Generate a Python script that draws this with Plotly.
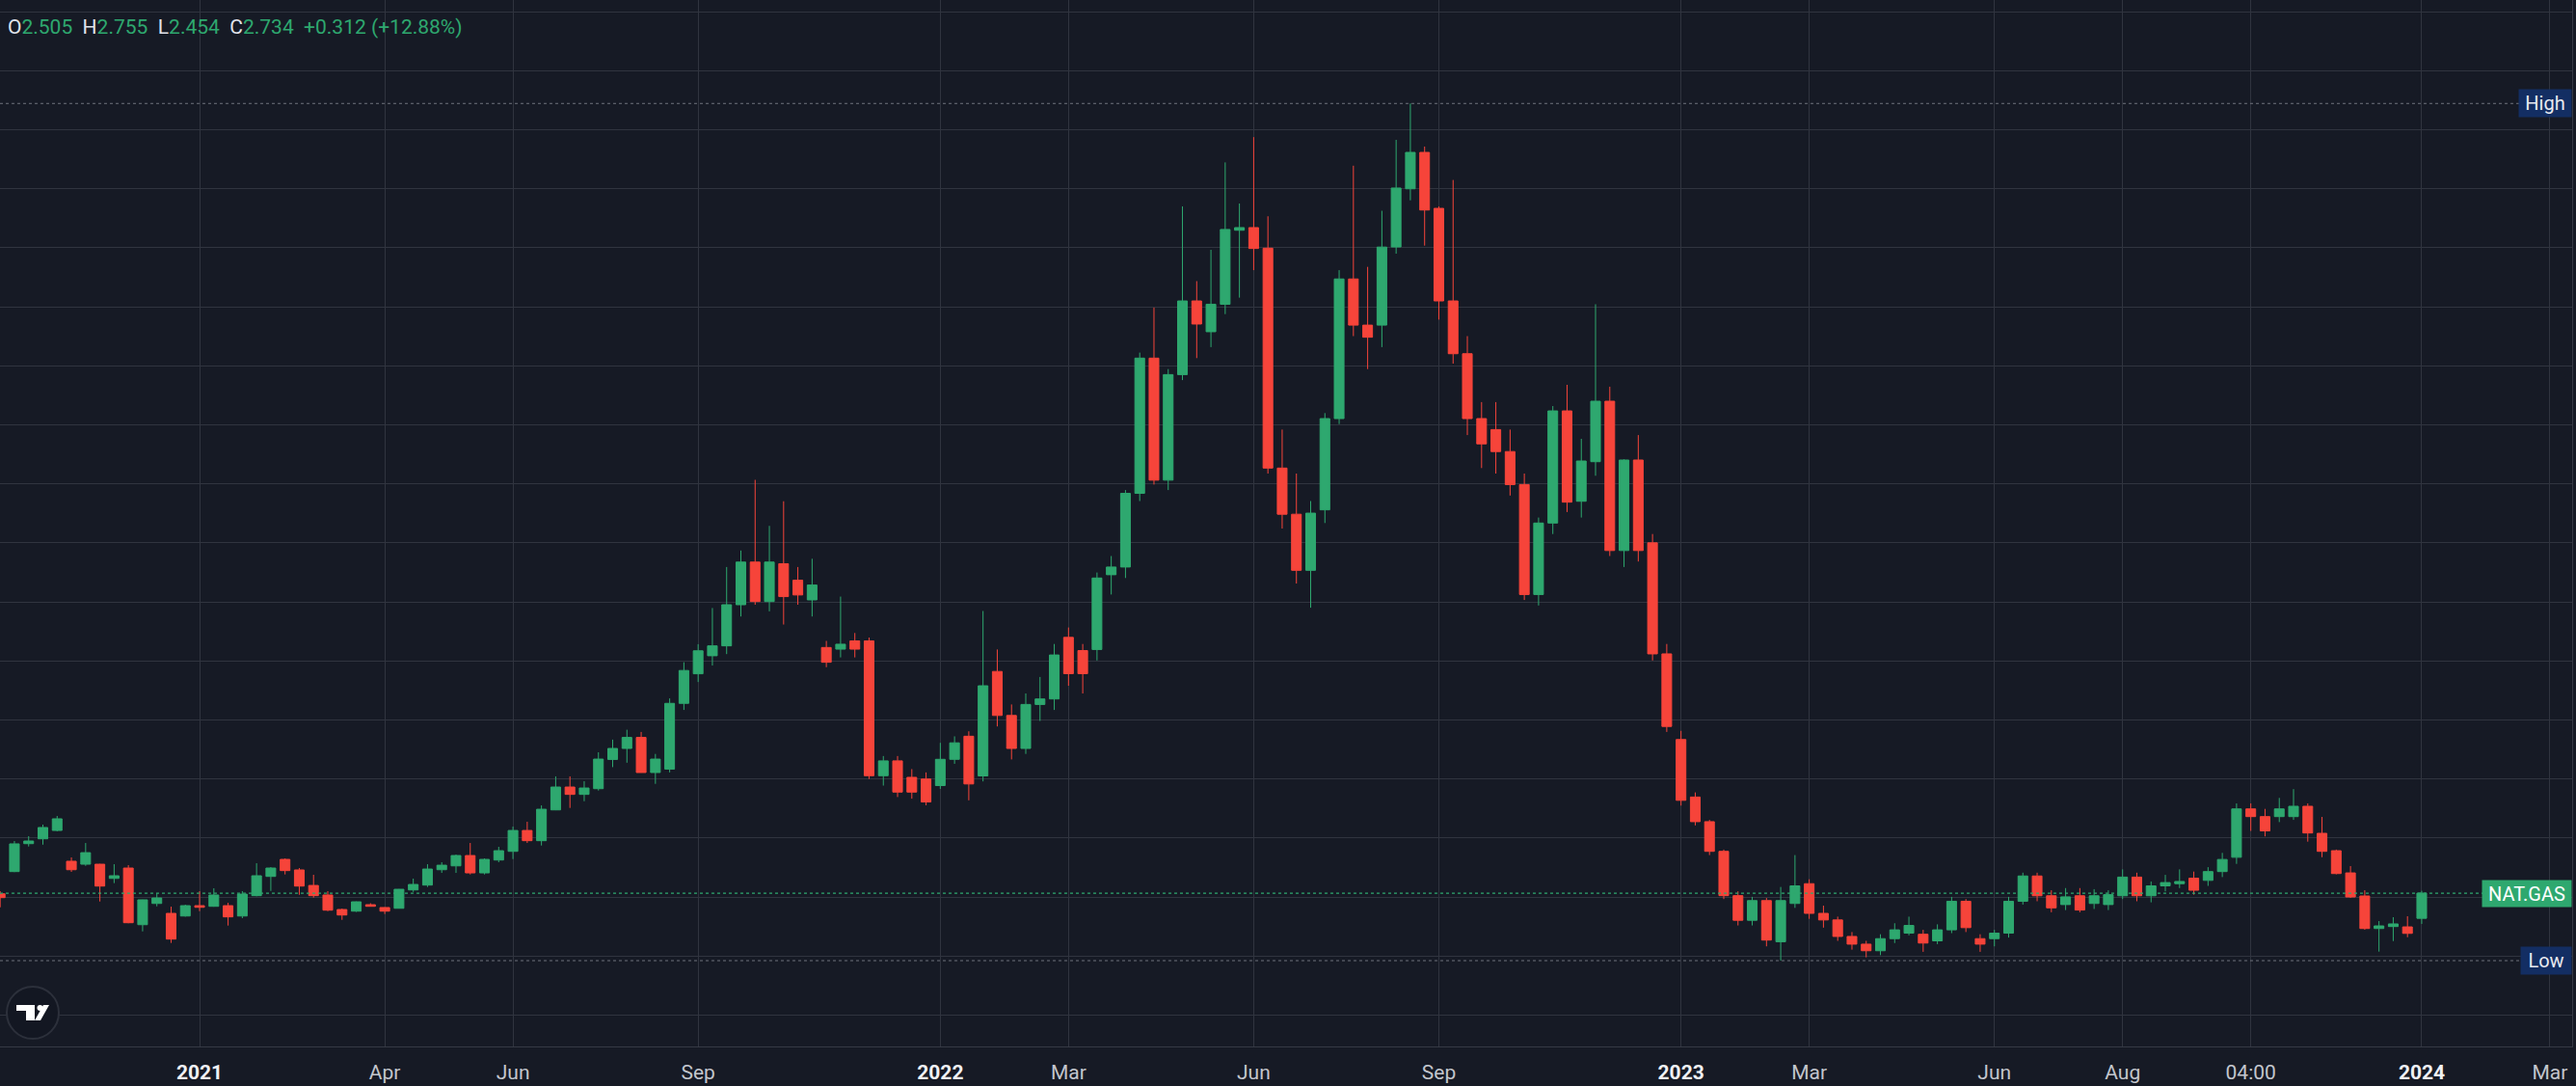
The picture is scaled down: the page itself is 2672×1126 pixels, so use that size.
import plotly.graph_objects as go
import pandas as pd

# ---------------- data (weekly candles, NAT.GAS) ----------------
start_week = "2020-09-28"
opens = [2.728, 2.930, 3.184, 3.228, 3.304, 3.024, 2.997, 2.997, 2.868, 2.962,
         2.447, 2.640, 2.550, 2.526, 2.620, 2.614, 2.620, 2.526, 2.711, 2.886,
         3.041, 2.945, 2.804, 2.717, 2.585, 2.570, 2.629, 2.603, 2.596, 2.763,
         2.807, 2.947, 2.982, 3.076, 2.918, 3.035, 3.114, 3.304, 3.211, 3.491,
         3.699, 3.632, 3.684, 3.950, 4.050, 4.150, 3.831, 3.862, 4.460, 4.729,
         4.893, 4.983, 5.357, 5.745, 5.386, 5.730, 5.580, 5.401, 4.968, 4.953,
         5.028, 5.028, 3.802, 3.937, 3.787, 3.772, 3.712, 3.951, 4.161, 3.800,
         4.750, 4.350, 4.050, 4.450, 4.500, 5.060, 4.940, 4.950, 5.630, 5.700,
         6.370, 7.600, 6.490, 7.450, 8.120, 7.840, 8.090, 8.763, 8.787, 8.600,
         6.600, 6.180, 5.670, 6.220, 7.050, 8.320, 7.900, 7.900, 8.611, 9.140,
         9.471, 8.962, 8.120, 7.640, 7.050, 6.950, 6.750, 6.450, 5.450, 6.100,
         7.120, 6.298, 6.658, 7.208, 5.850, 6.673, 5.920, 4.910, 4.131, 3.608,
         3.384, 3.114, 2.711, 2.487, 2.666, 2.292, 2.640, 2.820, 2.550, 2.490,
         2.340, 2.270, 2.210, 2.320, 2.370, 2.360, 2.300, 2.400, 2.660, 2.320,
         2.320, 2.370, 2.660, 2.890, 2.710, 2.630, 2.710, 2.640, 2.630, 2.710,
         2.880, 2.710, 2.800, 2.820, 2.870, 2.850, 2.930, 3.060, 3.500, 3.430,
         3.430, 3.430, 3.524, 3.278, 3.120, 2.918, 2.708, 2.412, 2.430, 2.427,
         2.505]
highs = [2.752, 3.208, 3.252, 3.357, 3.436, 3.059, 3.190, 3.000, 2.997, 2.989,
         2.675, 2.734, 2.611, 2.629, 2.752, 2.778, 2.646, 2.752, 3.006, 2.971,
         3.050, 2.962, 2.901, 2.752, 2.594, 2.658, 2.642, 2.606, 2.771, 2.866,
         2.997, 3.015, 3.085, 3.190, 3.050, 3.155, 3.339, 3.383, 3.532, 3.796,
         3.796, 3.752, 4.015, 4.130, 4.220, 4.200, 4.000, 4.505, 4.834, 4.998,
         5.327, 5.700, 5.850, 6.493, 6.074, 6.298, 5.700, 5.775, 5.028, 5.431,
         5.100, 5.058, 3.981, 3.981, 3.862, 3.832, 4.101, 4.160, 4.206, 5.300,
         4.950, 4.450, 4.550, 4.700, 5.000, 5.150, 5.000, 5.650, 5.800, 6.400,
         7.650, 8.060, 7.500, 8.980, 8.300, 8.585, 9.380, 9.006, 9.610, 8.890,
         6.950, 6.550, 6.300, 7.100, 8.400, 9.350, 8.430, 8.940, 9.585, 9.916,
         9.524, 8.980, 9.220, 7.800, 7.200, 7.200, 6.950, 6.550, 6.150, 7.164,
         7.357, 6.866, 8.090, 7.340, 6.680, 6.900, 6.000, 5.000, 4.210, 3.650,
         3.400, 3.130, 2.750, 2.700, 2.690, 2.790, 3.080, 2.860, 2.620, 2.520,
         2.380, 2.300, 2.360, 2.460, 2.520, 2.400, 2.450, 2.700, 2.680, 2.360,
         2.400, 2.700, 2.920, 2.920, 2.760, 2.780, 2.780, 2.770, 2.760, 2.950,
         2.920, 2.840, 2.900, 2.950, 2.930, 2.970, 3.100, 3.550, 3.550, 3.500,
         3.600, 3.680, 3.550, 3.427, 3.130, 2.980, 2.760, 2.480, 2.515, 2.524,
         2.755]
lows = [2.605, 2.925, 3.158, 3.175, 3.296, 2.927, 2.982, 2.658, 2.825, 2.460,
        2.386, 2.614, 2.281, 2.520, 2.570, 2.610, 2.439, 2.506, 2.705, 2.754,
        2.904, 2.719, 2.693, 2.570, 2.491, 2.563, 2.612, 2.544, 2.594, 2.745,
        2.790, 2.918, 2.918, 2.904, 2.904, 3.015, 3.044, 3.190, 3.167, 3.488,
        3.509, 3.570, 3.667, 3.880, 3.920, 3.830, 3.728, 3.832, 4.400, 4.654,
        4.804, 4.908, 5.250, 5.357, 5.297, 5.177, 5.357, 5.250, 4.789, 4.878,
        4.878, 3.772, 3.712, 3.608, 3.593, 3.533, 3.682, 3.910, 3.578, 3.750,
        4.250, 3.950, 4.000, 4.300, 4.400, 4.620, 4.550, 4.850, 5.450, 5.600,
        6.300, 6.450, 6.400, 7.400, 7.600, 7.700, 8.000, 8.150, 8.400, 6.550,
        6.050, 5.550, 5.330, 6.100, 7.000, 7.800, 7.500, 7.700, 8.550, 9.035,
        8.623, 7.950, 7.550, 6.900, 6.600, 6.550, 6.350, 5.400, 5.350, 6.000,
        6.200, 6.150, 6.530, 5.800, 5.700, 5.750, 4.850, 4.200, 3.530, 3.350,
        3.080, 2.680, 2.440, 2.440, 2.250, 2.120, 2.600, 2.500, 2.420, 2.300,
        2.220, 2.150, 2.170, 2.280, 2.350, 2.200, 2.270, 2.370, 2.380, 2.200,
        2.250, 2.330, 2.630, 2.660, 2.560, 2.580, 2.560, 2.590, 2.580, 2.680,
        2.660, 2.650, 2.750, 2.780, 2.720, 2.800, 2.880, 3.000, 3.300, 3.250,
        3.380, 3.400, 3.202, 3.061, 2.905, 2.690, 2.401, 2.202, 2.298, 2.333,
        2.454]
closes = [2.693, 3.182, 3.208, 3.331, 3.410, 2.947, 3.102, 2.798, 2.892, 2.465,
          2.673, 2.690, 2.316, 2.620, 2.605, 2.717, 2.518, 2.725, 2.892, 2.962,
          2.939, 2.798, 2.711, 2.579, 2.535, 2.655, 2.614, 2.570, 2.769, 2.813,
          2.953, 2.988, 3.076, 2.918, 3.041, 3.120, 3.304, 3.211, 3.497, 3.699,
          3.632, 3.690, 3.953, 4.050, 4.150, 3.831, 3.953, 4.460, 4.759, 4.938,
          4.983, 5.357, 5.745, 5.386, 5.745, 5.431, 5.446, 5.536, 4.834, 4.998,
          4.953, 3.802, 3.937, 3.653, 3.653, 3.563, 3.951, 4.101, 3.727, 4.620,
          4.350, 4.050, 4.450, 4.500, 4.900, 4.730, 4.730, 5.600, 5.700, 6.370,
          7.600, 6.490, 7.450, 8.120, 7.910, 8.090, 8.770, 8.787, 8.597, 6.600,
          6.180, 5.670, 6.190, 7.050, 8.320, 7.900, 7.790, 8.610, 9.147, 9.471,
          8.947, 8.120, 7.640, 7.050, 6.820, 6.750, 6.450, 5.450, 6.100, 7.120,
          6.290, 6.664, 7.208, 5.850, 6.673, 5.850, 4.910, 4.250, 3.578, 3.384,
          3.114, 2.711, 2.487, 2.666, 2.307, 2.666, 2.800, 2.550, 2.490, 2.340,
          2.270, 2.210, 2.320, 2.400, 2.440, 2.280, 2.400, 2.660, 2.420, 2.270,
          2.370, 2.660, 2.890, 2.710, 2.600, 2.700, 2.580, 2.710, 2.720, 2.880,
          2.710, 2.800, 2.830, 2.840, 2.760, 2.930, 3.040, 3.500, 3.430, 3.300,
          3.500, 3.524, 3.281, 3.114, 2.912, 2.699, 2.412, 2.436, 2.454, 2.368,
          2.734]
change_abs = 0.312
change_pct = 12.88

tick_dates = ["2021-01-04", "2021-04-05", "2021-06-07", "2021-09-06", "2022-01-03",
              "2022-03-07", "2022-06-06", "2022-09-05", "2023-01-02", "2023-03-06",
              "2023-06-05", "2023-08-07", "2023-10-09", "2024-01-01", "2024-03-04"]
tick_labels = ["2021", "Apr", "Jun", "Sep", "2022", "Mar", "Jun", "Sep", "2023", "Mar",
               "Jun", "Aug", "04:00", "2024", "Mar"]

# ---------------- style ----------------
BG = "#161a25"
GRID = "#30343f"
UP = "#2ea86f"
DOWN = "#f6443a"
NAVY = "#132e63"
TXT = "#e0e3ea"

dates = pd.date_range(start_week, periods=len(opens), freq="7D")

W, H = 2672, 1126
ML, MR, MT, MB = 0, 4, 0, 41
PW, PH = W - ML - MR, H - MT - MB

y_lo, y_hi = 1.3395, 10.857          # price at plot bottom / top
grid_step = 61.2 / (PH / (y_hi - y_lo))
grid0 = y_hi - 12 / (PH / (y_hi - y_lo))

fig = go.Figure()
fig.add_trace(go.Candlestick(
    x=dates, open=opens, high=highs, low=lows, close=closes,
    increasing=dict(line=dict(color=UP, width=1), fillcolor=UP),
    decreasing=dict(line=dict(color=DOWN, width=1), fillcolor=DOWN),
    hoverinfo="skip", showlegend=False,
))

ticktext = []
for t in tick_labels:
    if t.isdigit() and len(t) == 4:
        ticktext.append(f"<span style='color:#f0f1f4'><b>{t}</b></span>")
    else:
        ticktext.append(t)

hi_val = max(highs)
lo_val = min(lows)
last_c = closes[-1]

shapes = [
    dict(type="line", xref="paper", x0=0, x1=1, yref="y", y0=last_c, y1=last_c,
         line=dict(color=UP, width=1.2, dash="dot"), layer="above"),
    dict(type="line", xref="paper", x0=0, x1=1, yref="y", y0=hi_val, y1=hi_val,
         line=dict(color="#6f737d", width=1, dash="dot"), layer="above"),
    dict(type="line", xref="paper", x0=0, x1=1, yref="y", y0=lo_val, y1=lo_val,
         line=dict(color="#6f737d", width=1, dash="dot"), layer="above"),
]

def px(x):
    return x / PW

def py(y):
    return 1 - y / PH

# TradingView-style logo badge (decoration)
shapes += [
    dict(type="circle", xref="paper", yref="paper", x0=px(7), x1=px(61), y0=py(1077), y1=py(1023),
         fillcolor="#131722", line=dict(color="#2c303b", width=2), layer="above"),
    dict(type="rect", xref="paper", yref="paper", x0=px(17), x1=px(36), y0=py(1048), y1=py(1042),
         fillcolor="white", line=dict(width=0), layer="above"),
    dict(type="rect", xref="paper", yref="paper", x0=px(27), x1=px(36), y0=py(1058), y1=py(1042),
         fillcolor="white", line=dict(width=0), layer="above"),
    dict(type="circle", xref="paper", yref="paper", x0=px(38.5), x1=px(44.5), y0=py(1048), y1=py(1042),
         fillcolor="white", line=dict(width=0), layer="above"),
    dict(type="path", xref="paper", yref="paper",
         path=f"M {px(45)},{py(1042)} L {px(51)},{py(1042)} L {px(42)},{py(1058)} L {px(36)},{py(1058)} Z",
         fillcolor="white", line=dict(width=0), layer="above"),
]

header = (f"O<span style='color:{UP}'>{opens[-1]:.3f}</span>\u00a0\u00a0"
          f"H<span style='color:{UP}'>{highs[-1]:.3f}</span>\u00a0\u00a0"
          f"L<span style='color:{UP}'>{lows[-1]:.3f}</span>\u00a0\u00a0"
          f"C<span style='color:{UP}'>{closes[-1]:.3f}</span>\u00a0\u00a0"
          f"<span style='color:{UP}'>+{change_abs:.3f}\u00a0(+{change_pct:.2f}%)</span>")

annotations = [
    dict(xref="paper", yref="paper", x=px(6), y=py(28), xanchor="left", yanchor="middle",
         text=header, showarrow=False, font=dict(family="Roboto", size=21, color=TXT)),
    dict(xref="paper", yref="y", x=1, y=hi_val, xanchor="right", yanchor="middle",
         text="High", showarrow=False, bgcolor=NAVY, width=50, height=24, borderpad=2,
         font=dict(family="Roboto", size=20, color="#e8eaf0")),
    dict(xref="paper", yref="y", x=1, y=last_c, xanchor="right", yanchor="middle",
         text="NAT.GAS", showarrow=False, bgcolor=UP, width=88, height=23, borderpad=2,
         font=dict(family="Roboto", size=20, color="white")),
    dict(xref="paper", yref="y", x=1, y=lo_val, xanchor="right", yanchor="middle",
         text="Low", showarrow=False, bgcolor=NAVY, width=48, height=24, borderpad=2,
         font=dict(family="Roboto", size=20, color="#e8eaf0")),
]

fig.update_layout(
    width=W, height=H, autosize=False,
    margin=dict(l=ML, r=MR, t=MT, b=MB, pad=0),
    paper_bgcolor=BG, plot_bgcolor=BG,
    boxgap=0.32, boxgroupgap=0,
    hovermode=False,
    shapes=shapes, annotations=annotations,
    xaxis=dict(
        type="date", range=["2020-09-27 22:00", "2024-03-14 22:00"],
        rangeslider=dict(visible=False),
        tickmode="array", tickvals=tick_dates, ticktext=ticktext,
        showgrid=True, gridcolor=GRID, gridwidth=1,
        showline=True, linecolor="#363a45", linewidth=1,
        ticks="", ticklabelstandoff=8,
        tickfont=dict(family="Roboto", size=21, color="#c3c6cd"),
        zeroline=False, fixedrange=True,
    ),
    yaxis=dict(
        range=[y_lo, y_hi], side="right",
        tickmode="linear", tick0=grid0, dtick=grid_step,
        showticklabels=False, showgrid=True, gridcolor=GRID, gridwidth=1,
        showline=True, linecolor="#363a45", linewidth=1,
        zeroline=False, fixedrange=True,
    ),
)

fig.write_html("out.html", config={"displayModeBar": False})
